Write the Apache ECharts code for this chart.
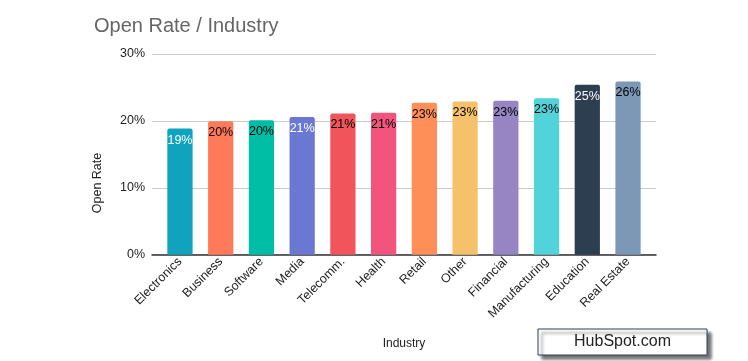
<!DOCTYPE html>
<html><head><meta charset="utf-8">
<script src="https://cdn.jsdelivr.net/npm/echarts@6/dist/echarts.min.js"></script>
<style>html,body{margin:0;padding:0;background:#fff}#c{width:748px;height:361px}</style>
</head><body><div id="c"></div>
<script>
const categories = ['Electronics','Business','Software','Media','Telecomm.','Health','Retail','Other','Financial','Manufacturing','Education','Real Estate'];
const openRate = [18.85, 19.95, 20.1, 20.6, 21.1, 21.2, 22.7, 22.9, 23.0, 23.4, 25.4, 25.9];
const barColors = ['#0fa3bd','#ff7a59','#00bda5','#6a78d1','#f2545b','#f2547d','#ff8f59','#f5c26b','#9784c2','#51d3d9','#2d3e50','#7c98b6'];
const labelColors = ['#fff','#000','#000','#fff','#000','#000','#000','#000','#000','#000','#fff','#000'];
const yTicks = [0, 10, 20, 30];

const font = 'Liberation Sans, Arial, sans-serif';
const chart = echarts.init(document.getElementById('c'));
chart.setOption({
  animation: false,
  title: { text: 'Open Rate / Industry', left: 89, top: 11, textStyle: { fontFamily: font, fontSize: 20, fontWeight: 'normal', color: '#666' } },
  grid: [
    { left: 152, width: 504, top: 54, height: 200.7 },
    { left: 159.6, width: 488.8, top: 54, height: 200.7 }
  ],
  xAxis: [
    { gridIndex: 0, type: 'category', data: categories, axisLine: { lineStyle: { color: '#333', width: 1.5 } }, axisTick: { show: false }, axisLabel: { show: false },
      name: 'Industry', nameLocation: 'middle', nameGap: 83, nameTextStyle: { fontFamily: font, fontSize: 12, color: '#222' } },
    { gridIndex: 1, type: 'category', data: categories, axisLine: { show: false }, axisTick: { show: false },
      axisLabel: { rotate: 45, interval: 0, margin: 5, fontFamily: font, fontSize: 12.5, color: '#222' } }
  ],
  yAxis: [
    { gridIndex: 0, type: 'value', min: yTicks[0], max: yTicks[yTicks.length-1], interval: 10, axisLine: { show: false }, axisTick: { show: false },
      axisLabel: { formatter: v => v + '%', fontFamily: font, fontSize: 12.5, color: '#222', margin: 7 },
      splitLine: { lineStyle: { color: '#ccc' } } },
    { gridIndex: 1, type: 'value', min: yTicks[0], max: yTicks[yTicks.length-1], show: false, splitLine: { show: false } }
  ],
  series: [{
    type: 'bar', xAxisIndex: 1, yAxisIndex: 1, barWidth: '62%',
    data: openRate.map((v, i) => ({ value: v, itemStyle: { color: barColors[i], borderRadius: [2,2,0,0] },
      label: { color: labelColors[i] } })),
    label: { show: true, position: 'insideTop', distance: 5, fontFamily: font, fontSize: 12.5, formatter: p => Math.round(p.value) + '%' }
  }],
  graphic: [
    { type: 'text', x: 98, y: 183, rotation: Math.PI / 2, style: { text: 'Open Rate', fontFamily: font, fontSize: 12.5, fill: '#222', align: 'center', verticalAlign: 'middle' } },
    { type: 'rect', shape: { x: 538, y: 329, width: 169, height: 26 }, style: { fill: '#fff', stroke: '#2d3e50', lineWidth: 1, shadowBlur: 3, shadowOffsetX: 4, shadowOffsetY: 4, shadowColor: 'rgba(0,0,0,0.55)' } },
    { type: 'text', x: 622.5, y: 342, style: { text: 'HubSpot.com', fontFamily: font, fontSize: 16, fill: '#222', align: 'center', verticalAlign: 'middle' } }
  ]
});
</script></body></html>
